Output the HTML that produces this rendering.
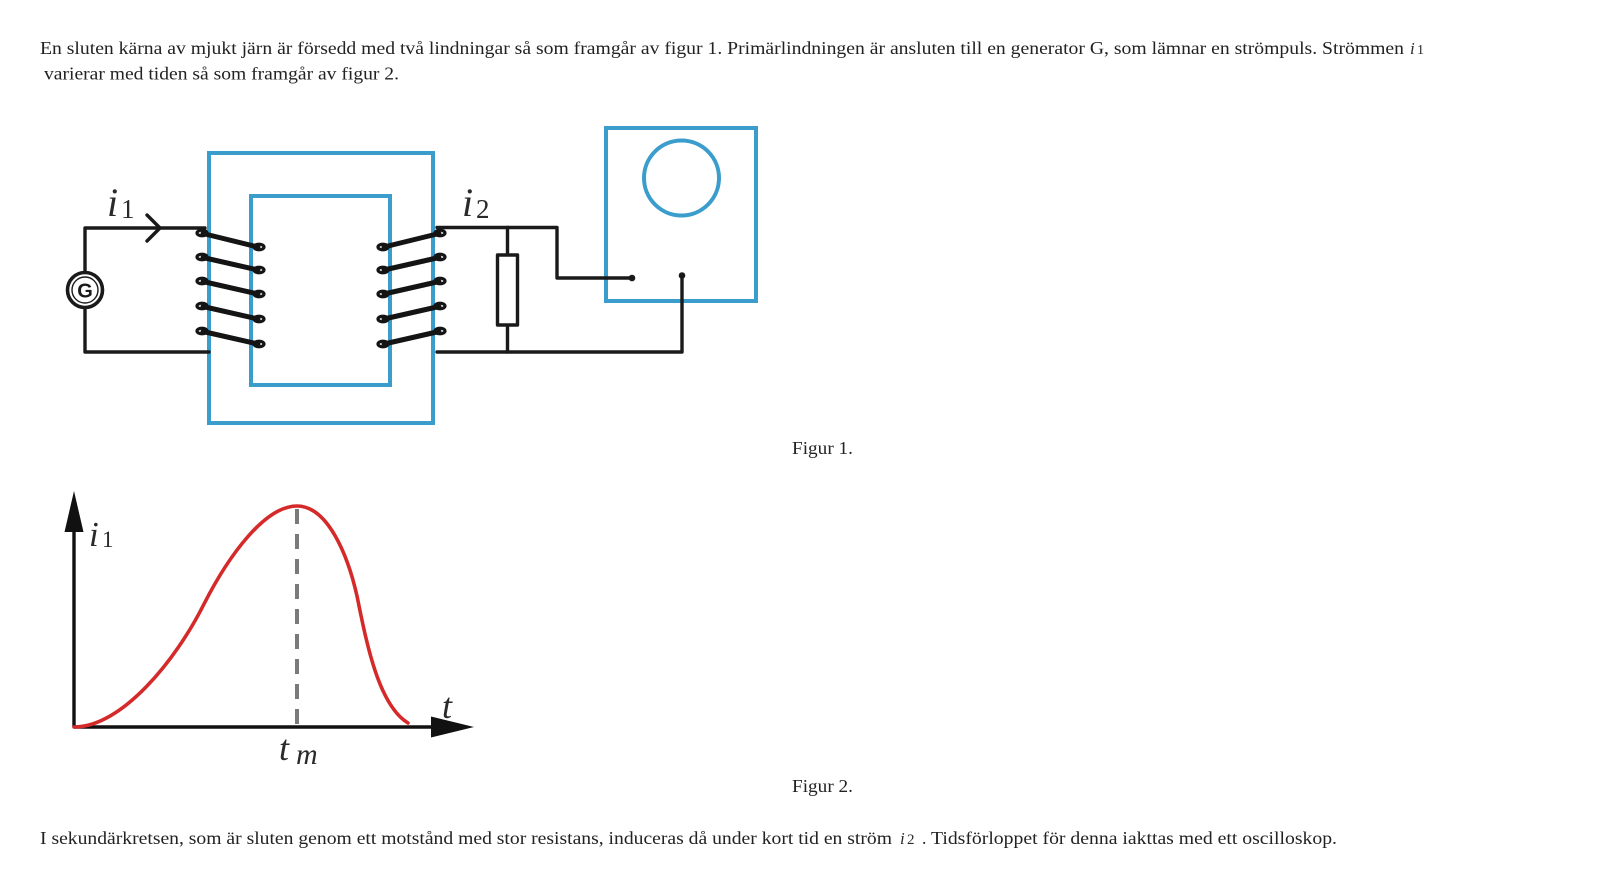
<!DOCTYPE html>
<html>
<head>
<meta charset="utf-8">
<style>
  html, body { margin:0; padding:0; background:#ffffff; }
  body { width:1600px; height:874px; overflow:hidden; }
  svg { display:block; }
  .t { font-family:"Liberation Serif", serif; fill:#222; font-size:17.5px; }
  .m { font-family:"Liberation Serif", serif; font-style:italic; fill:#2a2a2a; }
  .n { font-family:"Liberation Serif", serif; fill:#2a2a2a; }
</style>
</head>
<body>
<svg width="1600" height="874" viewBox="0 0 1600 874" xmlns="http://www.w3.org/2000/svg">
  <rect x="0" y="0" width="1600" height="874" fill="#ffffff"/>

  <!-- Paragraph text -->
  <text class="t" x="40" y="54" textLength="1364" lengthAdjust="spacingAndGlyphs">En sluten kärna av mjukt järn är försedd med två lindningar så som framgår av figur 1. Primärlindningen är ansluten till en generator G, som lämnar en strömpuls. Strömmen</text>
  <text class="m" x="1410" y="54" font-size="17">i</text>
  <text class="n" x="1417" y="54" font-size="14">1</text>
  <text class="t" x="44" y="79.5" textLength="355" lengthAdjust="spacingAndGlyphs">varierar med tiden så som framgår av figur 2.</text>

  <!-- Figure 1: circuit -->
  <g fill="none" stroke="#3b9dcb" stroke-width="4">
    <rect x="209" y="153" width="224" height="270"/>
    <rect x="251" y="196" width="139" height="189"/>
    <rect x="606" y="128" width="150" height="173"/>
    <circle cx="681.5" cy="178" r="37.5"/>
  </g>

  <g fill="none" stroke="#1a1a1a" stroke-width="3.4" stroke-linecap="round" stroke-linejoin="round">
    <!-- primary circuit -->
    <polyline points="205,228 85,228 85,352 209,352"/>
    <polyline points="147,215 160,228 147,241"/>
    <!-- secondary circuit -->
    <polyline points="437,227.5 557,227.5 557,278 632,278"/>
    <polyline points="437,352 682,352 682,276"/>
    <line x1="507.5" y1="227.5" x2="507.5" y2="255"/>
    <line x1="507.5" y1="325" x2="507.5" y2="352"/>
    <rect x="497.5" y="255" width="20" height="70" fill="#ffffff"/>
  </g>
  <circle cx="632" cy="278" r="3.3" fill="#1a1a1a"/>
  <circle cx="682" cy="275.5" r="3.3" fill="#1a1a1a"/>

  <!-- Generator -->
  <circle cx="85" cy="290" r="17.5" fill="#ffffff" stroke="#1a1a1a" stroke-width="3.6"/>
  <circle cx="85" cy="290" r="13" fill="none" stroke="#1a1a1a" stroke-width="1.4"/>
  <text x="85" y="297.5" text-anchor="middle" font-family="Liberation Sans, sans-serif" font-weight="bold" font-size="20" fill="#1a1a1a">G</text>

  <!-- Primary coil -->
  <g fill="none" stroke="#141414" stroke-linecap="round">
    <g stroke-width="5">
      <line x1="203" y1="233.5" x2="258" y2="247"/>
      <line x1="203" y1="257.5" x2="258" y2="270"/>
      <line x1="203" y1="281.5" x2="258" y2="294"/>
      <line x1="203" y1="306.5" x2="258" y2="319"/>
      <line x1="203" y1="331.5" x2="258" y2="344"/>
    </g>
    <g stroke-width="3.2">
      <ellipse cx="202" cy="233" rx="5" ry="2.8"/>
      <ellipse cx="202" cy="257" rx="5" ry="2.8"/>
      <ellipse cx="202" cy="281" rx="5" ry="2.8"/>
      <ellipse cx="202" cy="306" rx="5" ry="2.8"/>
      <ellipse cx="202" cy="331" rx="5" ry="2.8"/>
      <ellipse cx="259" cy="247" rx="5" ry="2.8"/>
      <ellipse cx="259" cy="270" rx="5" ry="2.8"/>
      <ellipse cx="259" cy="294" rx="5" ry="2.8"/>
      <ellipse cx="259" cy="319" rx="5" ry="2.8"/>
      <ellipse cx="259" cy="344" rx="5" ry="2.8"/>
    </g>
  </g>

  <!-- Secondary coil (mirrored) -->
  <g fill="none" stroke="#141414" stroke-linecap="round">
    <g stroke-width="5">
      <line x1="439" y1="233.5" x2="384" y2="247"/>
      <line x1="439" y1="257.5" x2="384" y2="270"/>
      <line x1="439" y1="281.5" x2="384" y2="294"/>
      <line x1="439" y1="306.5" x2="384" y2="319"/>
      <line x1="439" y1="331.5" x2="384" y2="344"/>
    </g>
    <g stroke-width="3.2">
      <ellipse cx="440" cy="233" rx="5" ry="2.8"/>
      <ellipse cx="440" cy="257" rx="5" ry="2.8"/>
      <ellipse cx="440" cy="281" rx="5" ry="2.8"/>
      <ellipse cx="440" cy="306" rx="5" ry="2.8"/>
      <ellipse cx="440" cy="331" rx="5" ry="2.8"/>
      <ellipse cx="383" cy="247" rx="5" ry="2.8"/>
      <ellipse cx="383" cy="270" rx="5" ry="2.8"/>
      <ellipse cx="383" cy="294" rx="5" ry="2.8"/>
      <ellipse cx="383" cy="319" rx="5" ry="2.8"/>
      <ellipse cx="383" cy="344" rx="5" ry="2.8"/>
    </g>
  </g>

  <!-- circuit labels -->
  <text class="m" x="107" y="216" font-size="40">i</text>
  <text class="n" x="121" y="218" font-size="27">1</text>
  <text class="m" x="462" y="216" font-size="40">i</text>
  <text class="n" x="476" y="218" font-size="27">2</text>

  <text class="t" x="792" y="454" textLength="61" lengthAdjust="spacingAndGlyphs">Figur 1.</text>

  <!-- Figure 2: graph -->
  <g stroke="#111" stroke-width="3.4" fill="none">
    <line x1="74" y1="727" x2="74" y2="525"/>
    <line x1="74" y1="727" x2="436" y2="727"/>
  </g>
  <polygon points="74,491 64.5,532 83.5,532" fill="#111"/>
  <polygon points="474,727 431,716.5 431,737.5" fill="#111"/>

  <line x1="297" y1="509" x2="297" y2="727" stroke="#7a7a7a" stroke-width="4" stroke-dasharray="15 10"/>

  <path d="M74,727 C122,727 176,660 204,604 C229,555 265,506 297,506 C328,506 348,556 357,596 C366,640 378,705 408,723"
        fill="none" stroke="#d42a2a" stroke-width="3.6" stroke-linecap="round"/>

  <text class="m" x="89" y="546" font-size="35">i</text>
  <text class="n" x="102" y="547" font-size="23">1</text>
  <text class="m" x="442" y="718" font-size="36">t</text>
  <text class="m" x="279" y="760" font-size="36">t</text>
  <text class="m" x="296" y="764" font-size="30">m</text>

  <text class="t" x="792" y="792" textLength="61" lengthAdjust="spacingAndGlyphs">Figur 2.</text>

  <!-- Bottom paragraph -->
  <text class="t" x="40" y="844" textLength="852" lengthAdjust="spacingAndGlyphs">I sekundärkretsen, som är sluten genom ett motstånd med stor resistans, induceras då under kort tid en ström</text>
  <text class="m" x="900" y="844" font-size="17">i</text>
  <text class="n" x="907" y="844" font-size="15">2</text>
  <text class="t" x="922" y="844">.</text>
  <text class="t" x="931" y="844" textLength="406" lengthAdjust="spacingAndGlyphs">Tidsförloppet för denna iakttas med ett oscilloskop.</text>
</svg>
</body>
</html>
